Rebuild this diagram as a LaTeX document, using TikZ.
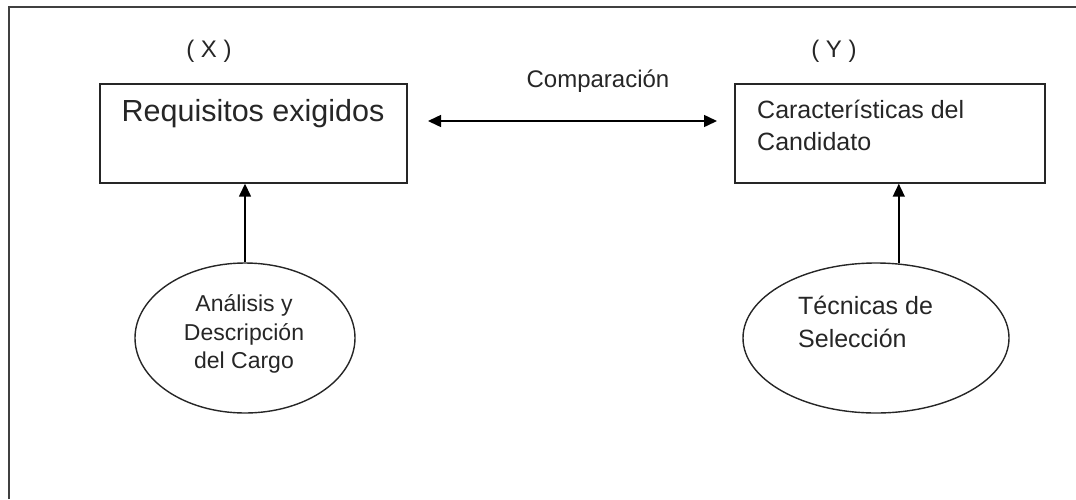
\documentclass[tikz,border=0pt]{standalone}
\usepackage{fontspec}
\setmainfont{Liberation Sans}
\usetikzlibrary{arrows.meta,shapes.geometric}
\begin{document}
\begin{tikzpicture}[x=1pt,y=-1pt,
  frame/.style={draw=black!75,line width=1.6pt},
  box/.style={draw=black!85,line width=1.4pt,rectangle,inner sep=0pt},
  oval/.style={draw=black!85,line width=1.4pt,ellipse,inner sep=0pt},
  lbl/.style={inner sep=0pt,text=black!85},
  conn/.style={line width=1.5pt,-{Triangle[length=13pt,width=12pt]}},
  dconn/.style={line width=1.5pt,{Triangle[length=13pt,width=12pt]}-{Triangle[length=13pt,width=12pt]}}]
\useasboundingbox (0,0) rectangle (1076,499);
\draw[frame] (9,499) -- (9,7) -- (1076,7);
% boxes
\node[box,minimum width=307pt,minimum height=99pt] (B1) at (253.5,133.5) {};
\node[box,minimum width=310pt,minimum height=99pt] (B2) at (890,133.5) {};
\node[lbl,font=\fontsize{30.5}{34}\selectfont] (T1) at (253,114) {Requisitos exigidos};
\node[lbl,anchor=west,align=left,font=\fontsize{25}{32}\selectfont] (T2) at (757,125.5) {Características del\\Candidato};
% labels
\node[lbl,font=\fontsize{24}{28}\selectfont] (X) at (209,51) {( X )};
\node[lbl,font=\fontsize{24}{28}\selectfont] (Y) at (834,51) {( Y )};
\node[lbl,font=\fontsize{24}{28}\selectfont] (C) at (598,81) {Comparación};
% ellipses
\node[oval,minimum width=220pt,minimum height=150pt] (E1) at (245,338) {};
\node[oval,minimum width=266pt,minimum height=150pt] (E2) at (876,338) {};
\node[lbl,align=center,font=\fontsize{23}{28.5}\selectfont] (T3) at (244,334) {Análisis y\\Descripción\\del Cargo};
\node[lbl,anchor=west,align=left,font=\fontsize{25}{33}\selectfont] (T4) at (798,321.5) {Técnicas de\\Selección};
% connectors
\coordinate (L) at (428,121);
\coordinate (R) at (717,121);
\draw[dconn] (L) -- (R);
\draw[conn] (E1.north) -- (E1.north |- B1.south);
\draw[conn] (E2.73) -- (E2.73 |- B2.south);
\end{tikzpicture}
\end{document}
